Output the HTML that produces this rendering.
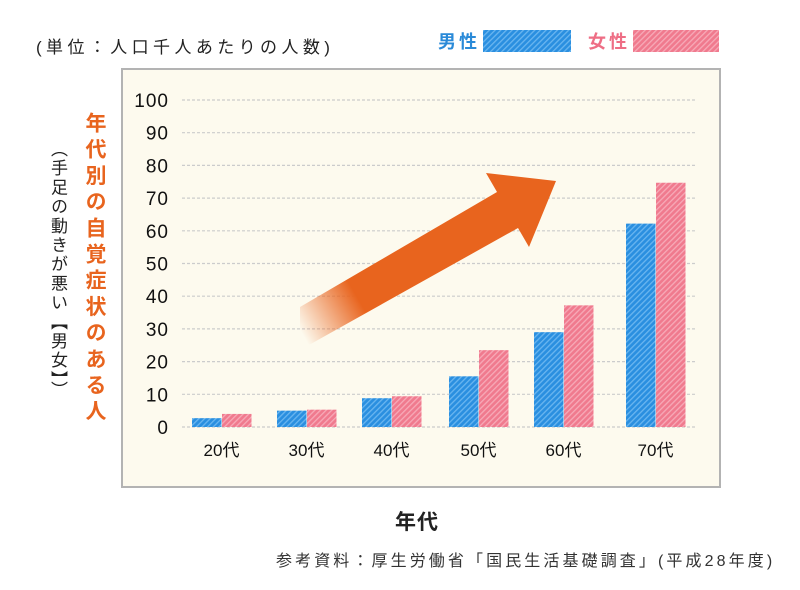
<!DOCTYPE html>
<html><head><meta charset="utf-8">
<style>
body{margin:0;background:#fff;width:800px;height:590px;overflow:hidden;font-family:"Liberation Sans","Noto Sans CJK JP",sans-serif}
.abs{position:absolute}
.vt{writing-mode:vertical-rl;white-space:nowrap}
</style></head><body>
<div style="position:relative;width:800px;height:590px">
<div class="abs" style="left:36px;top:33px;font-size:17px;color:#222;letter-spacing:4.4px">(単位：人口千人あたりの人数)</div>
<div class="abs" style="left:438px;top:30px;height:22px;display:flex;align-items:center">
 <span style="color:#2a8ad8;font-size:18px;font-weight:bold;letter-spacing:3px">男性</span>
 <svg width="88" height="22" style="margin-left:3px"><rect width="88" height="22" fill="url(#pb)"/></svg>
</div>
<div class="abs" style="left:588px;top:30px;height:22px;display:flex;align-items:center">
 <span style="color:#ee6e85;font-size:18px;font-weight:bold;letter-spacing:3px">女性</span>
 <svg width="86" height="22" style="margin-left:3px"><rect width="86" height="22" fill="url(#pp)"/></svg>
</div>
<div class="abs" style="left:121px;top:68px;width:600px;height:420px;background:#fdfaee;border:2px solid #b3b3b3;box-sizing:border-box"></div>
<div class="abs vt" style="left:79px;top:112px;font-size:21px;font-weight:bold;color:#e8641e;letter-spacing:5.2px">年代別の自覚症状のある人</div>
<div class="abs vt" style="left:45px;top:140px;font-size:17px;color:#222;letter-spacing:2.2px">（手足の動きが悪い【男女】）</div>
<svg class="abs" style="left:0;top:0" width="800" height="590" id="chart">
<defs>
<pattern id="pb" width="4" height="4" patternUnits="userSpaceOnUse" patternTransform="rotate(45)"><rect width="4" height="4" fill="#2a8fe0"/><rect width="1.3" height="4" fill="#6ab6f0"/></pattern>
<pattern id="pp" width="4" height="4" patternUnits="userSpaceOnUse" patternTransform="rotate(45)"><rect width="4" height="4" fill="#f07a8e"/><rect width="1.3" height="4" fill="#f7aab8"/></pattern>
<linearGradient id="ag" x1="300" y1="330" x2="560" y2="180" gradientUnits="userSpaceOnUse">
<stop offset="0" stop-color="#e8641e" stop-opacity="0"/><stop offset="0.22" stop-color="#e8641e" stop-opacity="1"/><stop offset="1" stop-color="#e8641e"/></linearGradient>
</defs>
<g id="grid"></g><g id="bars"></g><g id="labels"></g>
<polygon fill="url(#ag)" points="300,307 497,192 486,173 556,181 529,247 518,228 300,350"/>
</svg>
<div class="abs" style="left:395px;top:506px;font-size:21px;font-weight:bold;color:#222;letter-spacing:1px">年代</div>
<div class="abs" style="left:276px;top:547px;font-size:16px;color:#333;letter-spacing:3.1px">参考資料：厚生労働省「国民生活基礎調査」(平成28年度)</div>
</div>
<script>
const categories=["20代","30代","40代","50代","60代","70代"];
const male=[2.7,5.0,8.8,15.5,29.0,62.2];
const female=[4.0,5.3,9.4,23.5,37.2,74.7];
const ticks=[0,10,20,30,40,50,60,70,80,90,100];
const NS="http://www.w3.org/2000/svg";
const y0=427,y100=100,ys=v=>y0-(y0-y100)*v/100;
const groupX=[192,277,362,449,534,626];
const bw=29.5;
const grid=document.getElementById('grid'),bars=document.getElementById('bars'),lab=document.getElementById('labels');
ticks.forEach(t=>{
 const l=document.createElementNS(NS,'line');
 
 
 l.setAttribute('x1',182);l.setAttribute('x2',696);l.setAttribute('y1',ys(t));l.setAttribute('y2',ys(t));
 l.setAttribute('stroke','#ccc');l.setAttribute('stroke-dasharray','3,2');l.setAttribute('stroke-width','1.2');
 grid.appendChild(l);
 const tx=document.createElementNS(NS,'text');
 
 
 tx.setAttribute('x',169);tx.setAttribute('y',ys(t)+7);tx.setAttribute('text-anchor','end');
 tx.setAttribute('font-size','19');tx.setAttribute('letter-spacing','1');tx.setAttribute('fill','#111');tx.textContent=t;
 lab.appendChild(tx);
});
categories.forEach((c,i)=>{
 const x=groupX[i];
 [[male[i],'url(#pb)',x],[female[i],'url(#pp)',x+bw+0.5]].forEach(([v,f,bx],k)=>{
  const r=document.createElementNS(NS,'rect');
  
  
  r.setAttribute('x',bx);r.setAttribute('width',bw);r.setAttribute('y',ys(v));r.setAttribute('height',y0-ys(v));
  r.setAttribute('fill',f);bars.appendChild(r);
 });
 const tx=document.createElementNS(NS,'text');
 
 
 tx.setAttribute('x',x+bw);tx.setAttribute('y',456);tx.setAttribute('text-anchor','middle');
 tx.setAttribute('font-size','17');tx.setAttribute('fill','#111');tx.textContent=c;
 lab.appendChild(tx);
});
</script>
</body></html>
